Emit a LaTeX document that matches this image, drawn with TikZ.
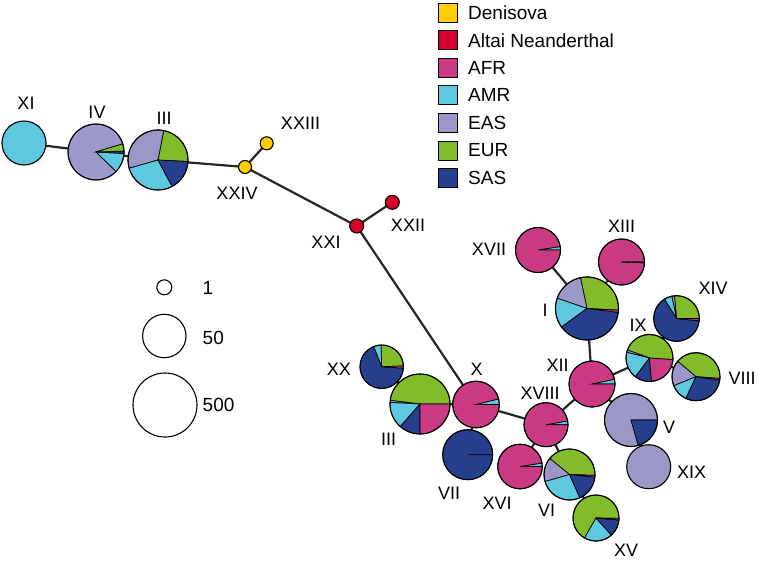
\documentclass[tikz,border=0pt]{standalone}
\usepackage{fontspec}
\setmainfont{Liberation Sans}
\definecolor{den}{HTML}{FFCC00}
\definecolor{nea}{HTML}{D7002B}
\definecolor{afr}{HTML}{C93A83}
\definecolor{amr}{HTML}{5EC8E0}
\definecolor{eas}{HTML}{9B98C8}
\definecolor{eur}{HTML}{82BC2A}
\definecolor{sas}{HTML}{253F8C}
\newcommand{\haplo}[3]{%
  \foreach \sa/\sb/\sc in {#3} {%
    \filldraw[fill=\sc, draw=black, line width=0.7pt] (#1) -- ++(\sa:#2) arc[start angle=\sa, end angle=\sb, radius=#2] -- cycle;}
  \draw[line width=1.1pt] (#1) circle[radius=#2];
}
\newcommand{\haplofull}[3]{%
  \filldraw[fill=#3, draw=black, line width=1.1pt] (#1) circle[radius=#2];
}
\begin{document}
\begin{tikzpicture}[x=1pt,y=1pt,
  edge/.style={line width=2.2pt, draw=black!85},
  lab/.style={font=\fontsize{18}{20}\selectfont, inner sep=0pt},
  leg/.style={font=\fontsize{19}{22}\selectfont, inner sep=0pt, anchor=west},
  legbox/.style={draw=black, line width=0.8pt, minimum width=19pt, minimum height=19pt, inner sep=0pt},
  sizec/.style={draw=black, line width=1.1pt, fill=white}]
\useasboundingbox (0,0) rectangle (760,-561);
% centres
\coordinate (XI) at (24,-143);
\coordinate (IV) at (96,-152);
\coordinate (IIIa) at (158,-160);
\coordinate (XXIV) at (245,-167);
\coordinate (XXIII) at (266.7,-143.3);
\coordinate (XXI) at (356.7,-226);
\coordinate (XXII) at (392.3,-202.3);
\coordinate (IIIb) at (420,-404);
\coordinate (XX) at (381.7,-366.7);
\coordinate (X) at (476,-404.5);
\coordinate (VII) at (467.7,-454.7);
\coordinate (XVIII) at (546,-424.7);
\coordinate (XVI) at (520,-466.5);
\coordinate (VI) at (569.5,-474.5);
\coordinate (XV) at (596,-518);
\coordinate (XII) at (592,-384);
\coordinate (I) at (587,-308.5);
\coordinate (XVII) at (538,-250);
\coordinate (XIII) at (621.5,-262);
\coordinate (XIV) at (676.5,-318.5);
\coordinate (IX) at (649.5,-358);
\coordinate (VIII) at (696,-376.7);
\coordinate (V) at (631,-420);
\coordinate (XIX) at (648.7,-466.7);
% edges
\draw[edge] (XI) -- (IV);
\draw[edge] (IV) -- (IIIa);
\draw[edge] (IIIa) -- (XXIV);
\draw[edge] (XXIV) -- (XXIII);
\draw[edge] (XXIV) -- (XXI);
\draw[edge] (XXI) -- (XXII);
\draw[edge] (XXI) -- (X);
\draw[edge] (X) -- (IIIb);
\draw[edge] (IIIb) -- (XX);
\draw[edge] (X) -- (VII);
\draw[edge] (X) -- (XVIII);
\draw[edge] (XVIII) -- (XVI);
\draw[edge] (XVIII) -- (VI);
\draw[edge] (VI) -- (XV);
\draw[edge] (XVIII) -- (XII);
\draw[edge] (XII) -- (I);
\draw[edge] (I) -- (XVII);
\draw[edge] (I) -- (XIII);
\draw[edge] (XII) -- (IX);
\draw[edge] (IX) -- (XIV);
\draw[edge] (IX) -- (VIII);
\draw[edge] (XII) -- (V);
\draw[edge] (V) -- (XIX);
% pies
\haplofull{XI}{22}{amr}
\haplo{IV}{28}{17/316/eas, 316/357/amr, 357/362/sas, 2/17/eur}
\haplo{IIIa}{30}{-3/79/eur, 79/196/eas, 196/298/amr, 298/357/sas}
\haplofull{XXIV}{6.5}{den}
\haplofull{XXIII}{6.5}{den}
\haplofull{XXI}{7}{nea}
\haplofull{XXII}{7}{nea}
\haplo{IIIb}{30}{0/173/eur, 173/177/eas, 177/229/amr, 229/270/sas, 270/360/afr}
\haplo{XX}{21.7}{2/92/eur, 92/112/amr, 112/356/sas, 356/362/afr}
\haplo{X}{23.3}{0/14/amr, 14/360/afr}
\haplo{VII}{25}{0/360/sas}
\haplo{XVIII}{22}{0/10/amr, 10/360/afr}
\haplo{XVI}{22.3}{0/9/amr, 9/360/afr}
\haplo{VI}{25.5}{-2/141/eur, 141/196/eas, 196/294/amr, 294/354/sas, 354/358/afr}
\haplo{XV}{23}{-1/240/eur, 240/312/amr, 312/355/sas, 355/359/afr}
\haplo{XII}{23}{0/12/amr, 12/360/afr}
\haplo{I}{31.5}{-3/102/eur, 102/161/eas, 161/216/amr, 216/353/sas, 353/357/afr}
\haplo{XVII}{22.5}{0/9/amr, 9/360/afr}
\haplo{XIII}{23}{0/358/afr, 358/360/sas}
\haplo{XIV}{22.8}{0/95/eur, 95/102/eas, 102/122/amr, 122/354/sas, 354/360/afr}
\haplo{IX}{23.5}{-4/160/eur, 160/166/eas, 166/233/amr, 233/275/sas, 275/356/afr}
\haplo{VIII}{24}{-4/140/eur, 140/202/eas, 202/245/amr, 245/352/sas, 352/356/afr}
\haplo{V}{26.5}{0/286/eas, 286/360/sas}
\haplofull{XIX}{22}{eas}
% labels
\node[lab] (lXI) at (26,-103) {XI};
\node[lab] (lIV) at (97,-112) {IV};
\node[lab] (lIIIa) at (164,-118) {III};
\node[lab] (lXXIV) at (237,-193) {XXIV};
\node[lab] (lXXIII) at (300.5,-123) {XXIII};
\node[lab] (lXXI) at (326,-242) {XXI};
\node[lab] (lXXII) at (408,-225.5) {XXII};
\node[lab] (lXVII) at (489,-249) {XVII};
\node[lab] (lXIII) at (621.7,-226) {XIII};
\node[lab] (lI) at (545,-310) {I};
\node[lab] (lXIV) at (713,-288) {XIV};
\node[lab] (lIX) at (638,-325) {IX};
\node[lab] (lVIII) at (742,-378) {VIII};
\node[lab] (lXII) at (557.7,-365) {XII};
\node[lab] (lXVIII) at (540,-393) {XVIII};
\node[lab] (lX) at (476.7,-369) {X};
\node[lab] (lIIIb) at (388.7,-439) {III};
\node[lab] (lVII) at (449,-493.3) {VII};
\node[lab] (lXVI) at (497,-503.3) {XVI};
\node[lab] (lVI) at (546.7,-510) {VI};
\node[lab] (lXV) at (626,-550) {XV};
\node[lab] (lXX) at (338.8,-369.7) {XX};
\node[lab] (lV) at (669,-427.5) {V};
\node[lab] (lXIX) at (691.7,-472.5) {XIX};
% colour legend
\node[legbox, fill=den] (k1) at (447.5,-12.7) {};
\node[legbox, fill=nea] (k2) at (447.5,-40.3) {};
\node[legbox, fill=afr] (k3) at (447.5,-67.8) {};
\node[legbox, fill=amr] (k4) at (447.5,-95.4) {};
\node[legbox, fill=eas] (k5) at (447.5,-122.9) {};
\node[legbox, fill=eur] (k6) at (447.5,-150.5) {};
\node[legbox, fill=sas] (k7) at (447.5,-178) {};
\node[leg] (t1) at (468,-12.7) {Denisova};
\node[leg] (t2) at (468,-40.3) {Altai Neanderthal};
\node[leg] (t3) at (468,-67.8) {AFR};
\node[leg] (t4) at (468,-95.4) {AMR};
\node[leg] (t5) at (468,-122.9) {EAS};
\node[leg] (t6) at (468,-150.5) {EUR};
\node[leg] (t7) at (468,-178) {SAS};
% size legend
\node[sizec, circle, minimum size=15pt, inner sep=0pt] (s1) at (164.3,-287.3) {};
\node[sizec, circle, minimum size=43.4pt, inner sep=0pt] (s2) at (164.3,-336) {};
\node[sizec, circle, minimum size=64pt, inner sep=0pt] (s3) at (165,-405) {};
\node[leg] (n1) at (202.5,-287.8) {1};
\node[leg] (n2) at (202.5,-338) {50};
\node[leg] (n3) at (202.5,-405) {500};
\end{tikzpicture}
\end{document}
